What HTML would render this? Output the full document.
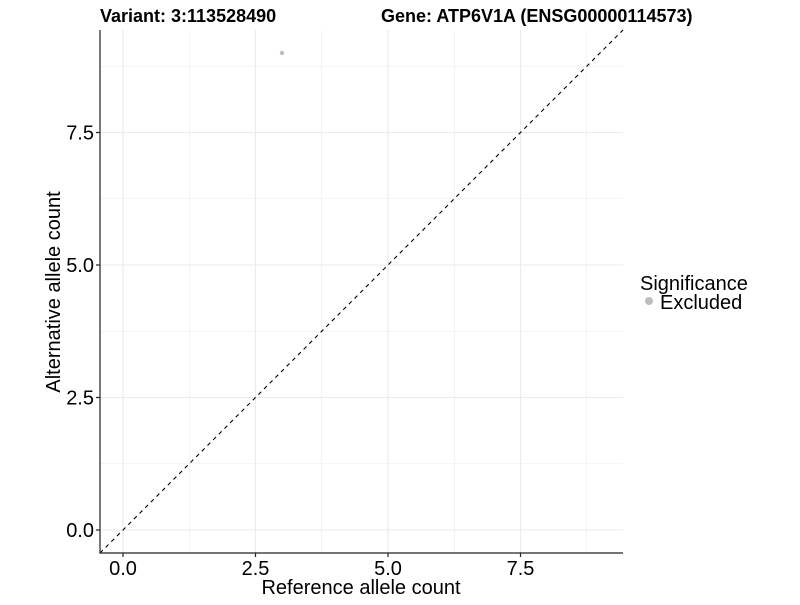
<!DOCTYPE html>
<html><head><style>body{margin:0;background:#fff}</style></head><body>
<svg width="800" height="600" xmlns="http://www.w3.org/2000/svg" font-family="Liberation Sans, sans-serif">
<rect width="800" height="600" fill="#fff"/>
<g stroke="#ebebeb" stroke-width="0.6">
<line x1="189.25" y1="30" x2="189.25" y2="553"/><line x1="321.75" y1="30" x2="321.75" y2="553"/><line x1="454.25" y1="30" x2="454.25" y2="553"/><line x1="586.75" y1="30" x2="586.75" y2="553"/>
<line x1="100" y1="463.75" x2="623" y2="463.75"/><line x1="100" y1="331.25" x2="623" y2="331.25"/><line x1="100" y1="198.75" x2="623" y2="198.75"/><line x1="100" y1="66.25" x2="623" y2="66.25"/>
</g>
<g stroke="#ebebeb" stroke-width="1.1">
<line x1="123" y1="30" x2="123" y2="553"/><line x1="255.5" y1="30" x2="255.5" y2="553"/><line x1="388" y1="30" x2="388" y2="553"/><line x1="520.5" y1="30" x2="520.5" y2="553"/>
<line x1="100" y1="530" x2="623" y2="530"/><line x1="100" y1="397.5" x2="623" y2="397.5"/><line x1="100" y1="265" x2="623" y2="265"/><line x1="100" y1="132.5" x2="623" y2="132.5"/>
</g>
<line x1="100" y1="553" x2="623" y2="30" stroke="#000" stroke-width="1.1" stroke-dasharray="4,4"/>
<circle cx="282" cy="53" r="2.2" fill="#bdbdbd"/>
<g stroke="#222" stroke-width="1.2">
<line x1="100" y1="30" x2="100" y2="553.5"/><line x1="99.5" y1="553" x2="623" y2="553"/>
<line x1="96" y1="530" x2="100" y2="530"/><line x1="96" y1="397.5" x2="100" y2="397.5"/><line x1="96" y1="265" x2="100" y2="265"/><line x1="96" y1="132.5" x2="100" y2="132.5"/>
<line x1="123" y1="553" x2="123" y2="557"/><line x1="255.5" y1="553" x2="255.5" y2="557"/><line x1="388" y1="553" x2="388" y2="557"/><line x1="520.5" y1="553" x2="520.5" y2="557"/>
</g>
<g font-size="20" fill="#000">
<g text-anchor="end"><text x="94" y="537">0.0</text><text x="94" y="404.5">2.5</text><text x="94" y="272">5.0</text><text x="94" y="139.5">7.5</text></g>
<g text-anchor="middle"><text x="123" y="575">0.0</text><text x="255.5" y="575">2.5</text><text x="388" y="575">5.0</text><text x="520.5" y="575">7.5</text>
<text x="361" y="594">Reference allele count</text>
<text transform="translate(60,292) rotate(-90)">Alternative allele count</text></g>
<text x="640" y="290">Significance</text>
<text x="660" y="309">Excluded</text>
</g>
<circle cx="649" cy="301" r="4" fill="#bdbdbd"/>
<g font-size="18" font-weight="bold"><text x="100" y="22">Variant: 3:113528490</text><text x="381" y="22">Gene: ATP6V1A (ENSG00000114573)</text></g>
</svg>
</body></html>
